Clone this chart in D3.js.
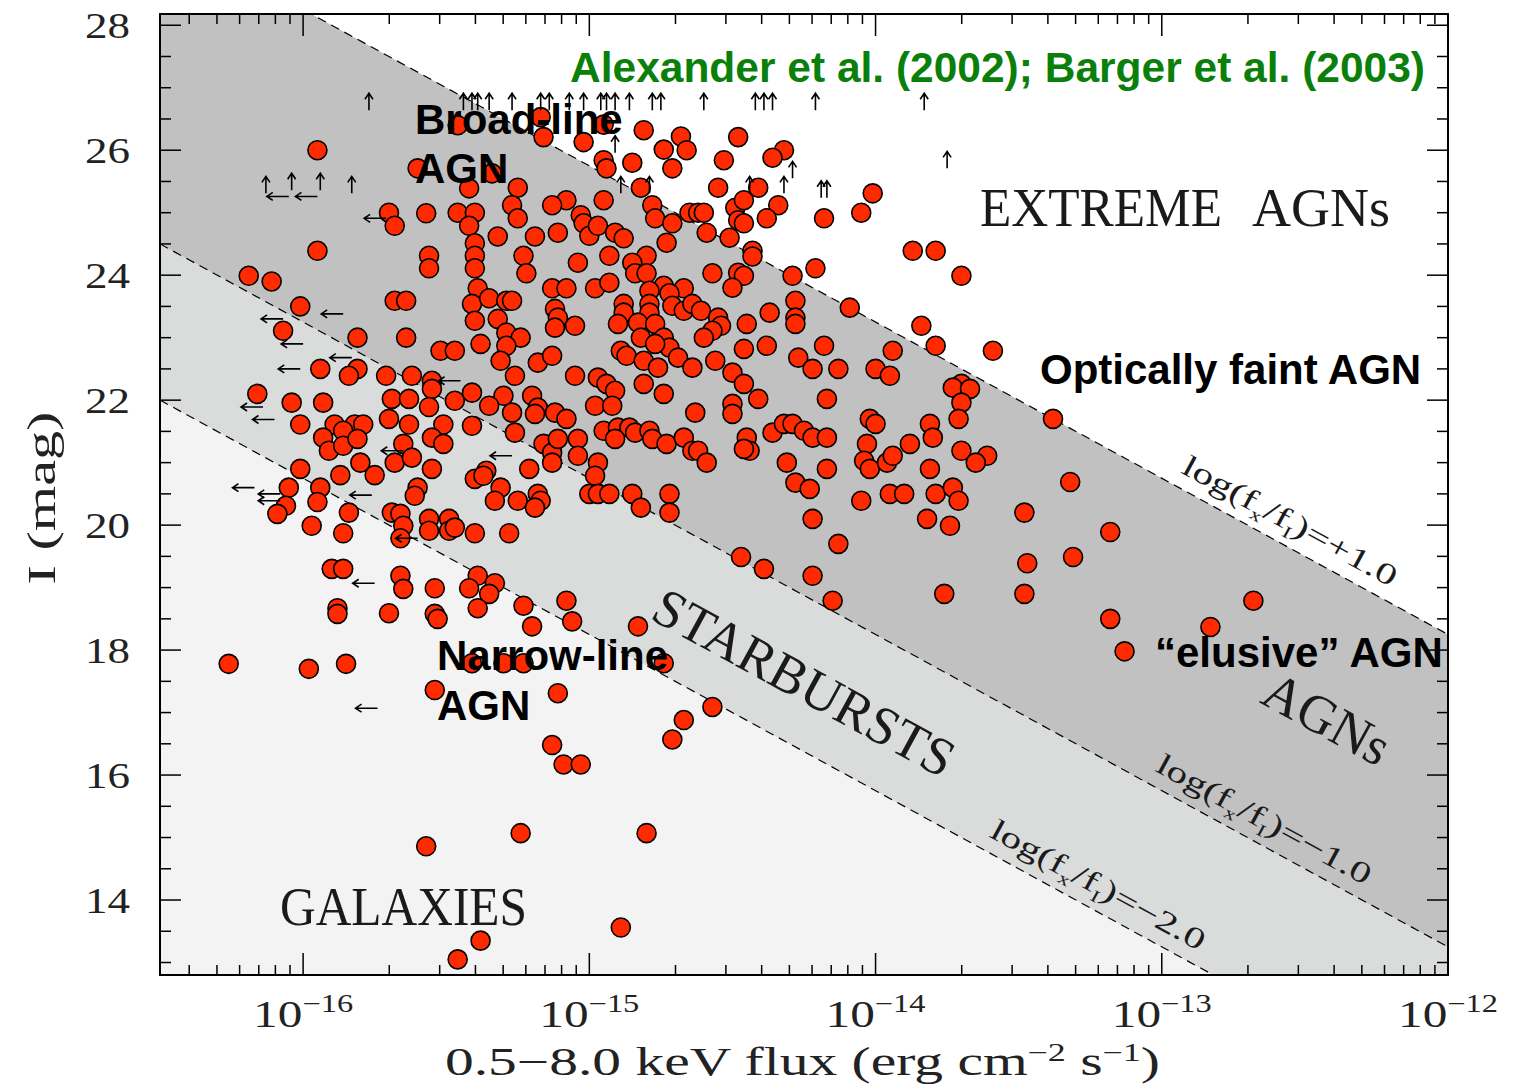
<!DOCTYPE html>
<html>
<head>
<meta charset="utf-8">
<script src="https://cdn.jsdelivr.net/npm/d3@7"></script>
<style>
  html, body { margin: 0; padding: 0; background: #fff; }
  svg { display: block; }
</style>
</head>
<body>
<svg id="chart" width="1513" height="1086"></svg>
<script>
// X-ray detected sources: [log10 flux (0.5-8 keV, erg cm^-2 s^-1), I magnitude]
const detections = [
  [-15.95,26.00],[-15.60,25.71],[-15.70,25.00],[-15.68,24.79],[-15.57,24.99],[-15.46,25.00],[-15.95,24.39],[-15.56,24.31],[-15.56,24.11],[-16.19,23.99],
  [-16.11,23.90],[-16.01,23.50],[-15.68,23.59],[-15.64,23.59],[-16.07,23.11],[-15.81,23.00],[-15.64,23.00],[-15.52,22.79],[-15.47,22.79],[-15.94,22.50],
  [-15.81,22.50],[-15.84,22.39],[-15.71,22.39],[-15.62,22.39],[-15.55,22.31],[-15.55,22.18],[-16.16,22.10],[-15.69,22.02],[-15.63,22.02],[-16.04,21.96],
  [-15.93,21.96],[-15.47,21.99],
  [-15.46,26.40],[-15.17,26.53],[-14.95,26.41],[-15.16,26.21],[-14.81,26.32],[-15.02,26.13],[-14.68,26.22],[-14.66,26.00],[-14.74,26.01],[-14.48,26.21],
  [-14.95,25.84],[-14.94,25.71],[-14.85,25.80],[-14.53,25.84],[-14.71,25.71],[-14.82,25.40],[-14.55,25.40],[-15.25,25.40],[-15.34,25.63],[-15.42,25.39],
  [-15.08,25.20],[-15.13,25.12],[-14.95,25.20],[-15.03,24.96],[-15.02,24.83],[-15.00,24.63],[-14.97,24.79],[-14.78,25.12],[-14.77,24.91],[-14.71,24.83],
  [-14.73,24.52],[-14.65,25.00],[-14.62,25.00],[-14.60,25.00],[-14.59,24.68],[-14.51,24.60],[-14.49,25.08],[-14.46,25.20],[-14.48,24.88],[-14.46,24.83],
  [-15.40,25.00],[-15.42,24.79],[-15.27,25.12],[-15.25,24.91],[-15.32,24.62],[-15.19,24.62],[-15.11,24.68],[-14.91,24.68],[-14.88,24.59],[-15.40,24.51],
  [-15.40,24.31],[-15.40,24.11],[-15.23,24.31],[-15.22,24.03],[-15.04,24.20],[-14.93,24.31],[-14.80,24.31],[-14.85,24.20],[-14.84,24.03],[-14.80,24.03],
  [-14.74,23.83],[-14.79,23.75],[-14.57,24.03],[-14.48,24.04],[-14.46,23.99],[-14.50,23.80],[-15.39,23.79],[-15.13,23.79],[-15.08,23.79],[-14.98,23.79],
  [-14.93,23.88],[-14.67,23.79],[-15.41,23.54],[-15.35,23.63],[-15.29,23.59],[-15.27,23.59],[-15.12,23.46],[-15.11,23.32],[-15.12,23.16],[-15.05,23.19],
  [-14.88,23.54],[-14.88,23.40],[-14.72,23.71],[-14.79,23.54],[-14.79,23.40],[-14.71,23.51],[-14.67,23.43],[-14.64,23.54],[-14.61,23.43],[-14.55,23.32],
  [-14.54,23.19],[-14.57,23.11],[-14.45,23.22],[-14.90,23.22],[-14.83,23.24],[-14.77,23.22],[-15.40,23.27],[-15.32,23.30],[-15.29,23.08],[-15.24,23.00],
  [-15.29,22.87],[-15.38,22.90],[-14.82,23.00],[-14.74,23.00],[-14.72,22.84],[-14.77,22.90],[-14.89,22.79],[-14.87,22.71],[-14.81,22.63],[-14.76,22.52],
  [-14.69,22.68],[-14.60,23.00],[-14.64,22.52],[-14.56,22.63],[-14.46,22.82],[-14.50,22.44],[-14.46,22.26],[-15.31,22.63],[-15.18,22.60],[-15.13,22.71],
  [-15.26,22.39],[-15.05,22.39],[-14.97,22.36],[-14.94,22.26],[-14.91,22.15],[-14.81,22.26],[-14.74,22.10],[-15.41,22.12],[-15.30,22.07],[-15.20,22.07],
  [-14.32,26.00],[-14.36,25.88],[-14.41,25.40],[-14.34,25.12],[-14.38,24.91],[-14.18,24.91],[-14.01,25.31],[-14.05,25.00],[-14.43,24.39],[-14.43,24.30],
  [-13.87,24.39],[-13.79,24.39],[-13.70,23.99],[-14.21,24.11],[-14.29,23.99],[-14.28,23.59],[-14.28,23.32],[-14.28,23.22],[-14.09,23.48],[-14.37,23.40],
  [-13.84,23.19],[-14.18,22.87],[-14.38,22.87],[-14.27,22.68],[-13.79,22.87],[-13.94,22.79],[-13.59,22.79],[-14.22,22.50],[-14.13,22.50],[-14.00,22.50],
  [-13.95,22.39],[-13.70,22.26],[-13.73,22.20],[-13.67,22.18],[-14.41,22.02],[-14.17,22.02],
  [-16.01,21.61],[-15.70,21.70],[-15.63,21.61],[-15.89,21.61],[-15.82,21.61],[-15.79,21.61],[-15.86,21.51],[-15.93,21.40],[-15.91,21.19],[-15.86,21.27],
  [-15.81,21.38],[-15.51,21.61],[-15.55,21.40],[-15.51,21.30],[-15.65,21.30],[-15.68,21.00],[-15.62,21.08],[-16.01,20.90],[-15.87,20.80],[-15.80,21.00],
  [-15.75,20.80],[-15.55,20.90],[-16.05,20.60],[-15.94,20.60],[-15.95,20.37],[-16.06,20.31],[-16.09,20.18],[-15.60,20.60],[-15.61,20.47],[-15.84,20.20],
  [-15.86,19.87],[-15.97,19.99],[-15.69,20.20],[-15.66,20.18],[-15.65,19.99],[-15.66,19.79],[-15.56,20.10],[-15.56,19.91],[-15.49,20.10],[-15.49,19.91],
  [-15.47,19.96],[-15.90,19.30],[-15.86,19.30],[-15.66,19.19],[-15.65,18.98],[-15.54,18.99],[-15.88,18.67],[-15.88,18.58],[-15.70,18.59],[-15.54,18.58],
  [-15.53,18.50],[-16.26,17.78],[-15.98,17.70],[-15.85,17.78],[-15.54,17.36],[-15.56,21.89],
  [-15.35,21.91],[-15.27,21.80],[-15.18,21.88],[-15.19,21.78],[-15.12,21.80],[-15.08,21.70],[-15.41,21.59],[-15.26,21.48],[-15.16,21.30],[-15.13,21.16],
  [-15.11,21.38],[-15.13,21.00],[-15.04,21.38],[-15.04,21.11],[-14.98,21.91],[-14.92,21.91],[-14.63,21.80],[-14.50,21.94],[-14.50,21.78],[-14.95,21.51],
  [-14.90,21.56],[-14.86,21.56],[-14.91,21.38],[-14.84,21.48],[-14.79,21.51],[-14.78,21.38],[-14.73,21.30],[-14.67,21.40],[-14.64,21.19],[-14.62,21.19],
  [-14.59,21.00],[-15.21,20.90],[-14.97,21.00],[-14.98,20.79],[-15.36,20.87],[-15.40,20.74],[-15.37,20.79],[-15.31,20.60],[-15.33,20.39],[-15.25,20.39],
  [-15.18,20.50],[-15.17,20.39],[-15.19,20.28],[-15.00,20.50],[-14.97,20.50],[-14.93,20.50],[-14.85,20.50],[-14.82,20.28],[-14.72,20.50],[-14.72,20.20],
  [-15.40,19.87],[-15.28,19.87],[-14.47,19.49],[-15.39,19.19],[-15.33,19.07],[-15.42,18.99],[-15.35,18.90],[-15.39,18.67],[-15.23,18.71],[-15.20,18.38],
  [-15.08,18.79],[-15.06,18.46],[-14.83,18.38],[-15.41,17.79],[-15.30,17.79],[-15.23,17.79],[-14.74,17.79],[-15.11,17.31],
  [-13.70,21.96],[-13.71,21.70],[-14.02,21.70],[-14.00,21.62],[-13.81,21.62],[-13.80,21.40],[-14.45,21.40],[-14.44,21.19],[-14.46,21.22],[-14.36,21.48],
  [-14.32,21.62],[-14.29,21.62],[-14.25,21.51],[-14.22,21.40],[-14.17,21.40],[-14.03,21.30],[-13.88,21.30],[-13.70,21.19],[-13.61,21.11],[-13.65,21.00],
  [-14.31,21.00],[-14.17,20.90],[-14.04,21.03],[-14.02,20.90],[-13.96,21.00],[-13.94,21.11],[-13.81,20.90],[-14.28,20.68],[-14.23,20.58],[-14.05,20.39],
  [-13.95,20.50],[-13.90,20.50],[-13.79,20.50],[-13.73,20.60],[-13.71,20.39],[-14.22,20.10],[-13.82,20.10],[-13.74,19.99],[-14.13,19.70],[-14.39,19.30],
  [-14.22,19.19],[-14.15,18.79],[-13.76,18.90],[-13.48,20.20],[-13.47,19.39],[-13.48,18.90],
  [-13.38,21.70],[-13.32,20.69],[-13.18,19.89],[-13.31,19.49],[-13.18,18.50],[-13.13,17.98],[-12.83,18.37],[-12.68,18.79],
  [-15.13,16.48],[-15.09,16.17],[-15.03,16.17],[-14.71,16.57],[-14.67,16.88],[-14.57,17.09],[-15.57,14.86],[-15.24,15.07],[-14.80,15.07],[-14.89,13.56],
  [-15.38,13.35],[-15.46,13.05]
];

// Optical limits (fainter than the plotted I): [log10 flux, I]
const opticalLimits = [
  [-15.77,26.64],[-15.44,26.64],[-15.41,26.64],[-15.39,26.64],[-15.35,26.64],[-15.27,26.64],[-15.17,26.64],[-15.14,26.64],[-15.07,26.64],[-15.02,26.64],
  [-14.96,26.64],[-14.94,26.64],[-14.91,26.64],[-14.86,26.64],[-14.78,26.64],[-14.75,26.64],[-14.60,26.64],[-14.42,26.64],[-14.39,26.64],[-14.36,26.64],
  [-14.21,26.64],[-13.83,26.64],
  [-13.75,25.71],[-16.13,25.31],[-16.04,25.36],[-15.94,25.36],[-15.83,25.31],[-14.91,25.96],[-14.89,25.31],[-14.79,25.31],[-14.44,25.31],[-14.32,25.31],
  [-14.29,25.55],[-14.19,25.24],[-14.17,25.24]
];

// X-ray flux upper limits: [log10 flux, I]
const fluxLimits = [
  [-15.71,24.91],[-16.05,25.26],[-15.95,25.26],[-15.86,23.38],[-16.07,23.30],[-16.00,22.90],[-15.83,22.68],[-16.01,22.50],[-15.45,22.31],[-16.14,21.89],
  [-16.10,21.69],[-16.17,20.60],[-16.08,20.50],[-16.08,20.39],[-15.76,20.48],[-15.60,19.79],[-15.75,19.07],[-15.74,17.07],[-15.65,21.19],[-15.27,21.11]
];

// Constant X-ray/optical flux ratio boundaries, log(fx/fI)
const ratioLevels = [1, -1, -2];
const ratioLabels = ["+1.0", "\u22121.0", "\u22122.0"];
const ratioLabelStart = [-12.96, -13.05, -13.63];

// Axis ticks
const magMajor = [14, 16, 18, 20, 22, 24, 26, 28];
const fluxDecades = [-16, -15, -14, -13, -12];

const svg = d3.select("#chart");
const P = { left: 160, right: 1448, top: 14, bottom: 975 };

const x = d3.scaleLog().domain([Math.pow(10, -16.5), 1e-12]).range([P.left, P.right]);
const y = d3.scaleLinear().domain([12.8, 28.18]).range([P.bottom, P.top]);
const X = lf => x(Math.pow(10, lf));

// I band magnitude along a line of constant log(fx/fI)
const magAt = (c, lf) => 2.5 * (c - lf - 5.7);

// slope of those lines on screen
const angle = Math.atan2(y(magAt(0, -15)) - y(magAt(0, -16)), X(-15) - X(-16)) * 180 / Math.PI;

svg.append("defs").append("clipPath").attr("id", "plotClip")
  .append("rect").attr("x", P.left).attr("y", P.top)
  .attr("width", P.right - P.left).attr("height", P.bottom - P.top);

const bg = svg.append("g").attr("clip-path", "url(#plotClip)");
bg.append("rect").attr("x", P.left).attr("y", P.top)
  .attr("width", P.right - P.left).attr("height", P.bottom - P.top)
  .attr("fill", "#f3f3f3");

// shaded zones, from the most optically luminous side upward
const zoneFill = { "-2": "#dadcdc", "-1": "#c1c1c1", "1": "#ffffff" };
const lfMin = -16.5, lfMax = -12;
[-2, -1, 1].forEach(c => {
  const poly = [[lfMin, magAt(c, lfMin)], [lfMax, magAt(c, lfMax)], [lfMax, 40], [lfMin, 40]];
  bg.append("path")
    .attr("d", d3.line().x(d => X(d[0])).y(d => y(d[1]))(poly) + "Z")
    .attr("fill", zoneFill[String(c)]);
});

// dashed ratio lines
ratioLevels.forEach(c => {
  bg.append("path")
    .attr("d", d3.line().x(d => X(d[0])).y(d => y(d[1]))([[lfMin, magAt(c, lfMin)], [lfMax, magAt(c, lfMax)]]))
    .attr("fill", "none").attr("stroke", "#000").attr("stroke-width", 1.2)
    .attr("stroke-dasharray", "9,6");
});

const serif = "'Liberation Serif', 'Times New Roman', serif";
const sans = "'Liberation Sans', Arial, Helvetica, sans-serif";

// region names
const regionText = (txt, px, py, len, size) =>
  bg.append("text").attr("x", px).attr("y", py).text(txt)
    .attr("font-family", serif).attr("font-size", size).attr("fill", "#1a1a1a")
    .attr("textLength", len).attr("lengthAdjust", "spacingAndGlyphs");
regionText("EXTREME", 980, 226, 242, 54);
regionText("AGNs", 1252, 226, 138, 54);
regionText("GALAXIES", 280, 925, 247, 54);

function alongLine(c, lf, offset, txt, len, size) {
  const g = bg.append("g")
    .attr("transform", `translate(${X(lf)},${y(magAt(c, lf))}) rotate(${angle})`);
  return g.append("text").attr("x", 0).attr("y", offset)
    .attr("font-family", serif).attr("font-size", size).attr("fill", "#1a1a1a")
    .attr("textLength", len).attr("lengthAdjust", "spacingAndGlyphs")
    .text(txt);
}
alongLine(-1.5, -14.75, 26, "STARBURSTS", 335, 54);
alongLine(0, -12.64, 13, "AGNs", 136, 54);

ratioLevels.forEach((c, i) => {
  const g = bg.append("g")
    .attr("transform", `translate(${X(ratioLabelStart[i])},${y(magAt(c, ratioLabelStart[i]))}) rotate(${angle})`);
  const t = g.append("text").attr("x", 0).attr("y", -14)
    .attr("font-family", serif).attr("font-size", 30).attr("fill", "#1a1a1a")
    .attr("textLength", 240).attr("lengthAdjust", "spacingAndGlyphs");
  t.append("tspan").text("log(f");
  t.append("tspan").attr("dy", 7).attr("font-size", 17).text("x");
  t.append("tspan").attr("dy", -7).text("/f");
  t.append("tspan").attr("dy", 7).attr("font-size", 17).text("I");
  t.append("tspan").attr("dy", -7).text(")=" + ratioLabels[i]);
});

// sources
const marks = svg.append("g").attr("clip-path", "url(#plotClip)");
marks.selectAll("circle.src").data(detections).join("circle")
  .attr("class", "src")
  .attr("cx", d => X(d[0])).attr("cy", d => y(d[1])).attr("r", 9.5)
  .attr("fill", "#ff2a00").attr("stroke", "#000").attr("stroke-width", 1.6);

// limit arrows
marks.selectAll("path.up").data(opticalLimits).join("path")
  .attr("class", "up")
  .attr("d", d => {
    const px = X(d[0]), py = y(d[1]);
    return `M${px},${py}V${py - 17}M${px - 4},${py - 11}L${px},${py - 17}L${px + 4},${py - 11}`;
  })
  .attr("fill", "none").attr("stroke", "#000").attr("stroke-width", 1.6);

marks.selectAll("path.left").data(fluxLimits).join("path")
  .attr("class", "left")
  .attr("d", d => {
    const px = X(d[0]), py = y(d[1]);
    return `M${px},${py}H${px - 22}M${px - 16},${py - 4}L${px - 22},${py}L${px - 16},${py + 4}`;
  })
  .attr("fill", "none").attr("stroke", "#000").attr("stroke-width", 1.6);

// annotations
const note = (txt, px, py, color, len) => {
  const t = svg.append("text").attr("x", px).attr("y", py).text(txt)
    .attr("font-family", sans).attr("font-weight", "bold").attr("font-size", 42)
    .attr("fill", color || "#000");
  if (len) t.attr("textLength", len).attr("lengthAdjust", "spacingAndGlyphs");
  return t;
};
note("Alexander et al. (2002); Barger et al. (2003)", 570, 82, "#0a800a", 855);
note("Broad-line", 415, 134);
note("AGN", 415, 183);
note("Narrow-line", 437, 670);
note("AGN", 437, 720);
note("Optically faint AGN", 1040, 384);
note("\u201Celusive\u201D AGN", 1155, 667);

// frame and ticks
const axes = svg.append("g").attr("stroke", "#000").attr("fill", "none");
axes.append("rect").attr("x", P.left).attr("y", P.top)
  .attr("width", P.right - P.left).attr("height", P.bottom - P.top).attr("stroke-width", 2);

const magTicks = d3.range(13, 28.01, 0.5);
magTicks.forEach(m => {
  const len = (m % 2 === 0) ? 21 : 11;
  const py = y(m);
  axes.append("line").attr("x1", P.left).attr("x2", P.left + len).attr("y1", py).attr("y2", py).attr("stroke-width", 1.5);
  axes.append("line").attr("x1", P.right).attr("x2", P.right - len).attr("y1", py).attr("y2", py).attr("stroke-width", 1.5);
});

const fluxTicks = [];
d3.range(-17, -11).forEach(d => {
  for (let m = 1; m <= 9; m++) {
    const v = m * Math.pow(10, d);
    const lv = Math.log10(v);
    if (lv >= -16.5 - 1e-9 && lv <= -12 + 1e-9) fluxTicks.push({ v, major: m === 1 });
  }
});
fluxTicks.forEach(t => {
  const px = x(t.v), len = t.major ? 22 : 10;
  axes.append("line").attr("x1", px).attr("x2", px).attr("y1", P.bottom).attr("y2", P.bottom - len).attr("stroke-width", 1.5);
  axes.append("line").attr("x1", px).attr("x2", px).attr("y1", P.top).attr("y2", P.top + len).attr("stroke-width", 1.5);
});

// tick labels
svg.selectAll("text.ylab").data(magMajor).join("text")
  .attr("class", "ylab")
  .attr("x", 130).attr("y", d => y(d)).attr("dy", "0.36em")
  .attr("text-anchor", "end")
  .attr("font-family", serif).attr("font-size", 36).attr("fill", "#222")
  .attr("textLength", 45).attr("lengthAdjust", "spacingAndGlyphs")
  .text(d => d);

fluxDecades.forEach(d => {
  const t = svg.append("text")
    .attr("x", X(d)).attr("y", 1027).attr("text-anchor", "middle")
    .attr("font-family", serif).attr("font-size", 38).attr("fill", "#222")
    .attr("textLength", 100).attr("lengthAdjust", "spacingAndGlyphs");
  t.append("tspan").text("10");
  t.append("tspan").attr("dy", -15).attr("font-size", 25).text("\u2212" + Math.abs(d));
});

// axis titles
const xt = svg.append("text")
  .attr("x", 445).attr("y", 1075)
  .attr("font-family", serif).attr("font-size", 40).attr("fill", "#222")
  .attr("textLength", 715).attr("lengthAdjust", "spacingAndGlyphs");
xt.append("tspan").text("0.5\u22128.0 keV flux (erg cm");
xt.append("tspan").attr("dy", -14).attr("font-size", 25).text("\u22122");
xt.append("tspan").attr("dy", 14).text(" s");
xt.append("tspan").attr("dy", -14).attr("font-size", 25).text("\u22121");
xt.append("tspan").attr("dy", 14).text(")");

svg.append("text")
  .attr("transform", "translate(55,498) rotate(-90)")
  .attr("text-anchor", "middle")
  .attr("font-family", serif).attr("font-size", 40).attr("fill", "#222")
  .attr("textLength", 173).attr("lengthAdjust", "spacingAndGlyphs")
  .text("I (mag)");
</script>
</body>
</html>
